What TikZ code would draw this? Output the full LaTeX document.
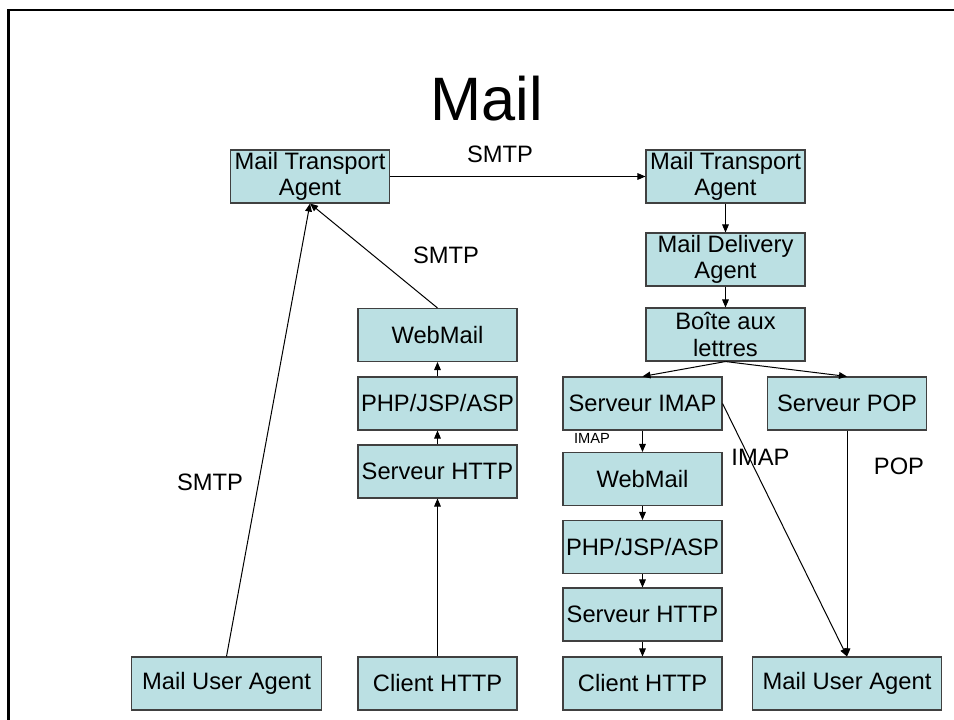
\documentclass[tikz,border=0pt]{standalone}
\usepackage{fontspec}
\setmainfont{Liberation Sans}
\usetikzlibrary{arrows.meta}
\definecolor{boxfill}{RGB}{187,224,227}
\definecolor{boxline}{RGB}{64,64,64}
\newcommand{\boxfont}{\fontsize{17.8pt}{20pt}\selectfont}
\newcommand{\smallfont}{\fontsize{11pt}{13pt}\selectfont}
\newcommand{\titlefont}{\fontsize{46pt}{50pt}\selectfont}
\begin{document}
\begin{tikzpicture}[x=0.75pt,y=-0.75pt,
  box/.style={draw=boxline, fill=boxfill, line width=0.8pt, inner sep=0pt,
    minimum width=119.25pt, minimum height=39.75pt, align=center, font=\boxfont},
  wide/.style={minimum width=142pt},
  arr/.style={draw=black, line width=0.75pt, -{Triangle[length=6pt,width=5pt]}},
  lbl/.style={inner sep=0pt, font=\boxfont},
  frame/.style={draw=black, line width=2pt}]
\useasboundingbox (0,0) rectangle (954,720);
\clip (0,0) rectangle (954,720);

% page frame
\draw[frame] (8.5,740) -- (8.5,10) -- (980,10);

% title
\node[inner sep=0pt, font=\titlefont] (title) at (487,99) {Mail};

% sending side
\node[box] (mtaL) at (310,176.5) {Mail Transport\\Agent};
\node[box] (wmL) at (437.5,335) {WebMail};
\node[box] (phpL) at (437.5,403.5) {PHP/JSP/ASP};
\node[box] (httpL) at (437.5,471.5) {Serveur HTTP};
\node[box] (cliL) at (437.5,683.5) {Client HTTP};
\node[box, wide] (muaL) at (226.5,683.5) {Mail User Agent};

% receiving side
\node[box] (mtaR) at (725.5,176.5) {Mail Transport\\Agent};
\node[box] (mda) at (725.5,259.5) {Mail Delivery\\Agent};
\node[box] (boite) at (725.5,334.5) {Boîte aux\\lettres};
\node[box] (imap) at (642.5,403.5) {Serveur IMAP};
\node[box] (pop) at (847,403.5) {Serveur POP};
\node[box] (wmR) at (642.5,479) {WebMail};
\node[box] (phpR) at (642.5,547) {PHP/JSP/ASP};
\node[box] (httpR) at (642.5,614.5) {Serveur HTTP};
\node[box] (cliR) at (642.5,683.5) {Client HTTP};
\node[box, wide] (muaR) at (847,683.5) {Mail User Agent};

% connectors, sending side
\draw[arr] (mtaL.east) -- (mtaR.west);
\draw[arr] (muaL.north) -- (mtaL.south);
\draw[arr] (wmL.north) -- (mtaL.south);
\draw[arr] (phpL.north) -- (wmL.south);
\draw[arr] (httpL.north) -- (phpL.south);
\draw[arr] (cliL.north) -- (httpL.south);

% connectors, receiving side
\draw[arr] (mtaR.south) -- (mda.north);
\draw[arr] (mda.south) -- (boite.north);
\draw[arr] (boite.south) -- (imap.north);
\draw[arr] (boite.south) -- (pop.north);
\draw[arr] (imap.south) -- (wmR.north);
\draw[arr] (wmR.south) -- (phpR.north);
\draw[arr] (phpR.south) -- (httpR.north);
\draw[arr] (httpR.south) -- (cliR.north);
\draw[arr] (imap.east) -- (muaR.north);
\draw[arr] (pop.south) -- (muaR.north);

% protocol labels
\node[lbl] (smtpTop) at (500,154) {SMTP};
\node[lbl] (smtpMid) at (446,255) {SMTP};
\node[lbl] (smtpLeft) at (210,482.5) {SMTP};
\node[inner sep=0pt, font=\smallfont] (imapSmall) at (592,438) {IMAP};
\node[lbl] (imapBig) at (760.5,457.5) {IMAP};
\node[lbl] (popLbl) at (899,466) {POP};
\end{tikzpicture}
\end{document}
